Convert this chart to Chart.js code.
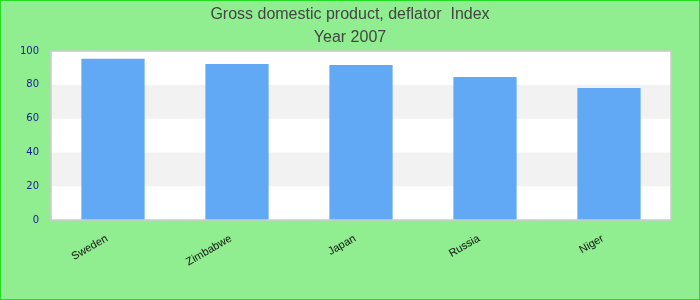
<!DOCTYPE html>
<html>
<head>
<meta charset="utf-8">
<script src="https://cdn.jsdelivr.net/npm/chart.js@4/dist/chart.umd.min.js"></script>
<style>
  html, body { margin: 0; padding: 0; background: #90ee90; }
  #wrap { width: 700px; height: 300px; box-sizing: border-box; border: 1px solid #22dd22; background: #90ee90; position: relative; }
  canvas { display: block; }
</style>
</head>
<body>
<div id="wrap"><canvas id="c"></canvas></div>
<script>
const titleLines = ['Gross domestic product, deflator  Index', 'Year 2007'];
const categories = ['Sweden', 'Zimbabwe', 'Japan', 'Russia', 'Niger'];
const values = [95.4, 92.3, 91.7, 84.6, 78.1];
const yTicks = [0, 20, 40, 60, 80, 100];

const bandsPlugin = {
  id: 'bands',
  beforeDatasetsDraw(chart) {
    const { ctx, chartArea: a, scales: { y } } = chart;
    ctx.save();
    ctx.fillStyle = '#ffffff';
    ctx.fillRect(a.left, a.top, a.right - a.left, a.bottom - a.top);
    ctx.fillStyle = '#f2f2f2';
    for (let i = 0; i < yTicks.length - 1; i++) {
      if (i % 2 === 1) {
        const y0 = y.getPixelForValue(yTicks[i]);
        const y1 = y.getPixelForValue(yTicks[i + 1]);
        ctx.fillRect(a.left, y1, a.right - a.left, y0 - y1);
      }
    }
    ctx.restore();
  },
  afterDatasetsDraw(chart) {
    const { ctx, chartArea: a } = chart;
    ctx.save();
    ctx.strokeStyle = '#cccccc';
    ctx.lineWidth = 1.5;
    ctx.strokeRect(a.left, a.top, a.right - a.left, a.bottom - a.top);
    ctx.restore();
  }
};

new Chart(document.getElementById('c'), {
  type: 'bar',
  data: {
    labels: categories,
    datasets: [{
      data: values,
      backgroundColor: '#62a9f5',
      borderWidth: 0,
      categoryPercentage: 1,
      barPercentage: 0.51
    }]
  },
  options: {
    responsive: true,
    maintainAspectRatio: false,
    animation: false,
    layout: { padding: 0 },
    plugins: {
      legend: { display: false },
      tooltip: { enabled: false },
      title: {
        display: true,
        text: titleLines,
        color: '#444444',
        font: { family: '"Liberation Sans", Arial, sans-serif', size: 16, weight: 'normal', lineHeight: 1.44 },
        padding: { top: 2, bottom: 2 }
      }
    },
    scales: {
      x: {
        grid: { display: false },
        border: { display: false },
        ticks: {
          color: '#111111',
          font: { family: '"Liberation Sans", Arial, sans-serif', size: 11 },
          minRotation: 30,
          maxRotation: 30,
          autoSkip: false,
          padding: 4,
          labelOffset: -6
        },
        afterFit(s) { s.height = 79; }
      },
      y: {
        min: 0,
        max: 100,
        grid: { display: false },
        border: { display: false },
        afterBuildTicks(s) { s.ticks = yTicks.map(v => ({ value: v })); },
        ticks: {
          color: '#1a1a99',
          font: { family: '"DejaVu Sans", Verdana, sans-serif', size: 10 },
          padding: 4
        },
        afterFit(s) { s.width = 50; }
      },
      yRight: {
        position: 'right',
        display: true,
        grid: { display: false },
        border: { display: false },
        ticks: { display: false },
        afterFit(s) { s.width = 28; }
      }
    }
  },
  plugins: [bandsPlugin]
});
</script>
</body>
</html>
